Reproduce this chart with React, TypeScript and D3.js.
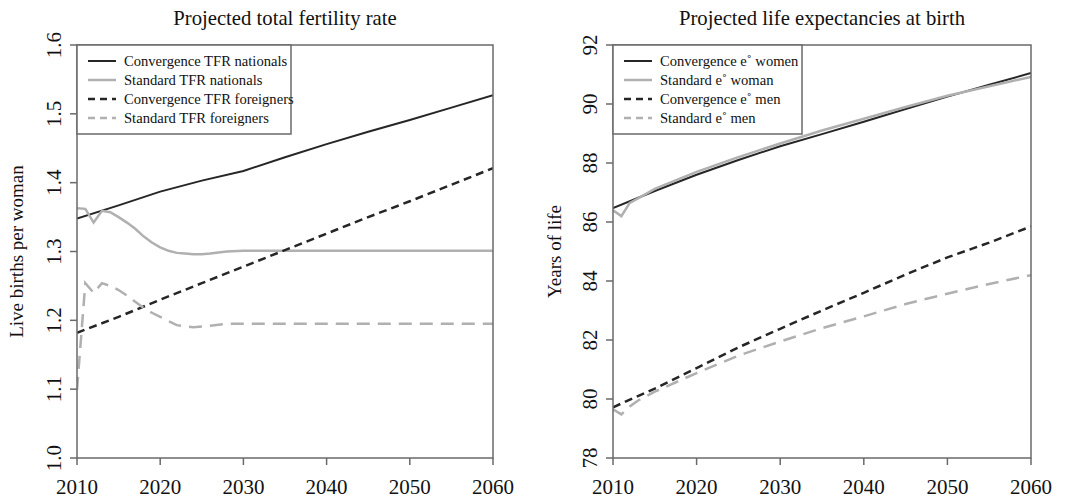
import React from 'react';
import * as d3 from 'd3';

// Projected total fertility rate
const tfrYearsFine = [2010, 2011, 2012, 2013, 2014, 2015, 2016, 2017, 2018, 2019, 2020, 2021, 2022, 2023, 2024, 2025, 2026, 2028, 2030, 2035, 2040, 2045, 2050, 2055, 2060];
const tfrYearsCoarse = [2010, 2015, 2020, 2025, 2030, 2035, 2040, 2045, 2050, 2055, 2060];
const convTfrNationals = [1.348, 1.367, 1.387, 1.403, 1.417, 1.437, 1.456, 1.474, 1.491, 1.509, 1.527];
const stdTfrNationals = [1.363, 1.362, 1.342, 1.359, 1.357, 1.35, 1.342, 1.333, 1.322, 1.313, 1.306, 1.301, 1.298, 1.297, 1.296, 1.296, 1.297, 1.3, 1.301, 1.301, 1.301, 1.301, 1.301, 1.301, 1.301];
const convTfrForeigners = [1.182, 1.205, 1.23, 1.254, 1.278, 1.302, 1.326, 1.35, 1.373, 1.397, 1.421];
const stdTfrForeigners = [1.099, 1.254, 1.24, 1.254, 1.25, 1.244, 1.236, 1.227, 1.218, 1.211, 1.205, 1.199, 1.193, 1.191, 1.19, 1.191, 1.192, 1.195, 1.195, 1.195, 1.195, 1.195, 1.195, 1.195, 1.195];

// Projected life expectancies at birth
const e0YearsFine = [2010, 2011, 2012, 2013, 2015, 2020, 2025, 2030, 2035, 2040, 2045, 2050, 2055, 2060];
const e0YearsCoarse = [2010, 2015, 2020, 2025, 2030, 2035, 2040, 2045, 2050, 2055, 2060];
const convE0Women = [86.47, 87.05, 87.6, 88.1, 88.57, 88.98, 89.4, 89.83, 90.25, 90.65, 91.05];
const stdE0Woman = [86.4, 86.2, 86.65, 86.8, 87.12, 87.7, 88.2, 88.66, 89.1, 89.5, 89.9, 90.28, 90.6, 90.92];
const convE0Men = [79.72, 80.35, 81.05, 81.75, 82.38, 83.0, 83.6, 84.22, 84.8, 85.3, 85.85];
const stdE0Men = [79.65, 79.48, 79.75, 79.95, 80.25, 80.88, 81.47, 81.95, 82.4, 82.8, 83.22, 83.57, 83.9, 84.2];

const xTicks = [2010, 2020, 2030, 2040, 2050, 2060];
const tfrTicks = ['1.0', '1.1', '1.2', '1.3', '1.4', '1.5', '1.6'];
const e0Ticks = ['78', '80', '82', '84', '86', '88', '90', '92'];

const DARK = '#262626';
const LIGHT = '#b0b0b0';
const FRAME = '#6a6a6a';
const FONT = "'Liberation Serif', 'DejaVu Serif', serif";
const txt = { fontFamily: FONT, fill: '#111' };

type Series = { label: string; years: number[]; values: number[]; color: string; dash?: string; width: number };

const Panel = ({ x0, x1, yTicks, yDomain, title, yTitle, yTitleX, series, legendW }: {
  x0: number; x1: number; yTicks: string[]; yDomain: [number, number]; title: string;
  yTitle: string; yTitleX: number; series: Series[]; legendW: number;
}) => {
  const top = 45;
  const bottom = 458;
  const x = d3.scaleLinear().domain([2010, 2060]).range([x0, x1]);
  const y = d3.scaleLinear().domain(yDomain).range([bottom, top]);
  const line = d3.line<[number, number]>().x((d) => x(d[0])).y((d) => y(d[1]));

  return (
    <g>
      <text style={txt} x={(x0 + x1) / 2} y={25} textAnchor="middle" fontSize={20.7}>{title}</text>
      <text style={txt} transform={`translate(${yTitleX},${(top + bottom) / 2}) rotate(-90)`} textAnchor="middle" fontSize={19}>{yTitle}</text>
      <defs>
        <clipPath id={`clip-${x0}`}>
          <rect x={x0} y={top} width={x1 - x0} height={bottom - top} />
        </clipPath>
      </defs>
      <g clipPath={`url(#clip-${x0})`}>
        {series.map((s) => (
          <path key={s.label} d={line(s.years.map((yr, i) => [yr, s.values[i]]) as [number, number][]) || ''}
            fill="none" stroke={s.color} strokeWidth={s.width} strokeDasharray={s.dash} />
        ))}
      </g>
      <rect x={x0} y={top} width={x1 - x0} height={bottom - top} fill="none" stroke={FRAME} strokeWidth={1.5} />
      {xTicks.map((t) => (
        <g key={t}>
          <line x1={x(t)} x2={x(t)} y1={bottom} y2={bottom + 7} stroke={FRAME} strokeWidth={1.5} />
          <text style={txt} x={x(t)} y={bottom + 36} textAnchor="middle" fontSize={21}>{t}</text>
        </g>
      ))}
      {yTicks.map((t) => (
        <g key={t}>
          <line x1={x0 - 7} x2={x0} y1={y(+t)} y2={y(+t)} stroke={FRAME} strokeWidth={1.5} />
          <text style={txt} transform={`translate(${x0 - 16},${y(+t)}) rotate(-90)`} textAnchor="middle" fontSize={21}>{t}</text>
        </g>
      ))}
      <rect x={x0} y={top} width={legendW} height={89} fill="white" stroke={FRAME} strokeWidth={1.5} />
      {series.map((s, i) => (
        <g key={s.label} transform={`translate(${x0},${top + 16 + i * 19})`}>
          <line x1={11} x2={39} y1={0} y2={0} stroke={s.color} strokeWidth={s.width} strokeDasharray={s.dash ? '7,5' : undefined} />
          <text style={txt} x={47} y={5} fontSize={14.6}>{s.label}</text>
        </g>
      ))}
    </g>
  );
};

export default function App() {
  const tfrSeries: Series[] = [
    { label: 'Convergence TFR nationals', years: tfrYearsCoarse, values: convTfrNationals, color: DARK, width: 2 },
    { label: 'Standard TFR nationals', years: tfrYearsFine, values: stdTfrNationals, color: LIGHT, width: 2.5 },
    { label: 'Convergence TFR foreigners', years: tfrYearsCoarse, values: convTfrForeigners, color: DARK, dash: '8,5', width: 2.5 },
    { label: 'Standard TFR foreigners', years: tfrYearsFine, values: stdTfrForeigners, color: LIGHT, dash: '13,8', width: 2.5 },
  ];
  const e0Series: Series[] = [
    { label: 'Convergence e\u02DA  women', years: e0YearsCoarse, values: convE0Women, color: DARK, width: 2 },
    { label: 'Standard e\u02DA  woman', years: e0YearsFine, values: stdE0Woman, color: LIGHT, width: 2.5 },
    { label: 'Convergence e\u02DA  men', years: e0YearsCoarse, values: convE0Men, color: DARK, dash: '8,5', width: 2.5 },
    { label: 'Standard e\u02DA  men', years: e0YearsFine, values: stdE0Men, color: LIGHT, dash: '13,8', width: 2.5 },
  ];
  return (
    <svg width={1061} height={498} style={{ display: 'block', margin: '-8px 0 0 -8px' }}>
      <rect width={1061} height={498} fill="white" />
      <Panel x0={77} x1={493} yTicks={tfrTicks} yDomain={[1.0, 1.6]} title="Projected total fertility rate"
        yTitle="Live births per woman" yTitleX={23} series={tfrSeries} legendW={214} />
      <Panel x0={613} x1={1031} yTicks={e0Ticks} yDomain={[78, 92]} title="Projected life expectancies at birth"
        yTitle="Years of life" yTitleX={561} series={e0Series} legendW={189} />
    </svg>
  );
}
